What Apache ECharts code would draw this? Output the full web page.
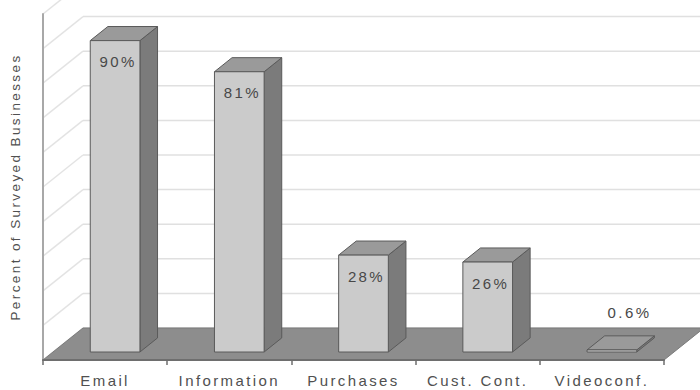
<!DOCTYPE html>
<html>
<head>
<meta charset="utf-8">
<script src="https://cdn.jsdelivr.net/npm/echarts@6/dist/echarts.min.js"></script>
<style>
  html, body { margin: 0; padding: 0; background: #fff; }
  #main { width: 700px; height: 390px; }
  /* wide, airy lettering for every label */
  #main text { letter-spacing: 2.4px; }
</style>
</head>
<body>
<div id="main"></div>
<script>
// Share of surveyed businesses using each internet application
const categories = ['Email', 'Information', 'Purchases', 'Cust. Cont.', 'Videoconf.'];
const shares = [90, 81, 28, 26, 0.6];
// Percentage levels for the wall grid
const gridLevels = [0, 10, 20, 30, 40, 50, 60, 70, 80, 90, 100];

// Oblique projection of the depth axis (pixels from front plane to back wall)
const DEPTH_X = 40;
const DEPTH_Y = -32;
// Bar block sits between these fractions of the floor depth
const BAR_FRONT = 0.25;
const BAR_BACK = 0.69;
const FONT = '"Liberation Sans", Arial, sans-serif';

const chart = echarts.init(document.getElementById('main'), null, { renderer: 'svg' });

function renderRoom(params, api) {
  const cs = params.coordSys;
  const left = cs.x, right = cs.x + cs.width;
  const children = [];
  // left side wall: diagonal grid lines
  gridLevels.forEach(function (v) {
    const p = api.coord([0, v]);
    children.push({
      type: 'line',
      shape: { x1: left, y1: p[1], x2: left + DEPTH_X, y2: p[1] + DEPTH_Y },
      style: { stroke: '#e3e3e3', lineWidth: 1.5 }
    });
  });
  // back wall: horizontal grid lines
  gridLevels.forEach(function (v) {
    const p = api.coord([0, v]);
    children.push({
      type: 'line',
      shape: { x1: left + DEPTH_X, y1: p[1] + DEPTH_Y, x2: right + DEPTH_X, y2: p[1] + DEPTH_Y },
      style: { stroke: '#e0e0e0', lineWidth: 1.5 }
    });
  });
  // floor
  const y0 = api.coord([0, 0])[1];
  children.push({
    type: 'polygon',
    shape: { points: [[left, y0], [right, y0], [right + DEPTH_X, y0 + DEPTH_Y], [left + DEPTH_X, y0 + DEPTH_Y]] },
    style: { fill: '#8d8d8d', stroke: '#7a7a7a', lineWidth: 1 }
  });
  return { type: 'group', children: children };
}

function renderBar(params, api) {
  const idx = api.value(0);
  const val = api.value(1);
  const base = api.coord([idx, 0]);
  const top = api.coord([idx, val]);
  const band = api.size([1, 0])[0];
  const bw = band * 0.4;
  const x0 = base[0] - bw / 2 + BAR_FRONT * DEPTH_X;
  const yb = base[1] + BAR_FRONT * DEPTH_Y;
  const yt = top[1] + BAR_FRONT * DEPTH_Y;
  const ddx = (BAR_BACK - BAR_FRONT) * DEPTH_X;
  const ddy = (BAR_BACK - BAR_FRONT) * DEPTH_Y;
  const edge = { stroke: '#5a5a5a', lineWidth: 1 };
  const label = val + '%';
  const tall = (yb - yt) > 30;
  return {
    type: 'group',
    children: [
      {
        type: 'polygon',
        shape: { points: [[x0 + bw, yt], [x0 + bw + ddx, yt + ddy], [x0 + bw + ddx, yb + ddy], [x0 + bw, yb]] },
        style: Object.assign({ fill: '#7b7b7b' }, edge)
      },
      {
        type: 'polygon',
        shape: { points: [[x0, yt], [x0 + ddx, yt + ddy], [x0 + bw + ddx, yt + ddy], [x0 + bw, yt]] },
        style: Object.assign({ fill: '#9a9a9a' }, edge)
      },
      {
        type: 'rect',
        shape: { x: x0, y: yt, width: bw, height: yb - yt },
        style: Object.assign({ fill: '#cbcbcb' }, edge)
      },
      {
        type: 'text',
        z2: 10,
        style: {
          text: label,
          x: tall ? x0 + bw / 2 + 3 : x0 + bw / 2 + ddx,
          y: tall ? yt + 21 : yt + ddy - 23,
          align: 'center',
          verticalAlign: 'middle',
          font: '15px ' + FONT,
          fill: '#484848'
        }
      }
    ]
  };
}

chart.setOption({
  animation: false,
  backgroundColor: '#ffffff',
  grid: { left: 42, right: 36, top: 14, bottom: 30 },
  xAxis: {
    type: 'category',
    data: categories,
    z: 5,
    axisLine: { lineStyle: { color: '#6e6e6e', width: 2 } },
    axisTick: { show: true, length: 5, lineStyle: { color: '#6e6e6e', width: 1.5 } },
    axisLabel: { margin: 13, color: '#505050', fontSize: 15, fontFamily: FONT }
  },
  yAxis: {
    type: 'value',
    min: 0,
    max: 100,
    interval: 10,
    z: 5,
    name: 'Percent of Surveyed Businesses',
    nameLocation: 'middle',
    nameRotate: 90,
    nameGap: 21,
    nameTextStyle: { color: '#505050', fontSize: 13.5, fontFamily: FONT },
    axisLine: { show: true, lineStyle: { color: '#a8a8a8', width: 2 } },
    axisTick: { show: false },
    axisLabel: { show: false },
    splitLine: { show: false }
  },
  series: [
    {
      type: 'custom',
      name: 'room',
      z: 1,
      silent: true,
      renderItem: renderRoom,
      data: [[0, 0]]
    },
    {
      type: 'custom',
      name: 'Share',
      z: 3,
      renderItem: renderBar,
      encode: { x: 0, y: 1 },
      data: shares.map(function (v, i) { return [i, v]; })
    }
  ]
});
</script>
</body>
</html>
